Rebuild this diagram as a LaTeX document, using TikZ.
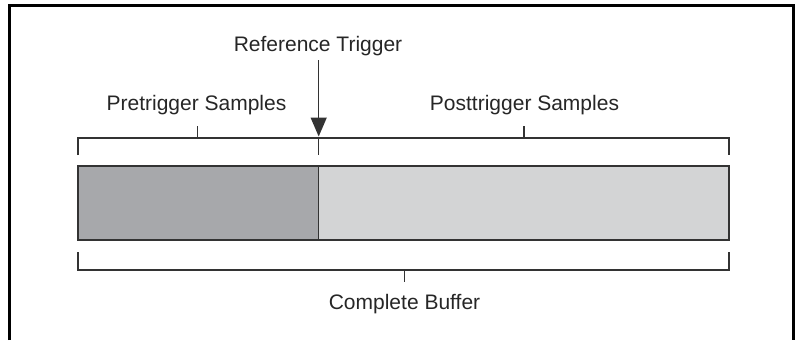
\documentclass[tikz,border=0pt]{standalone}
\usepackage{fontspec}
\setmainfont{Liberation Sans}
\usetikzlibrary{arrows.meta}
\definecolor{darkfill}{HTML}{A7A8AB}
\definecolor{lightfill}{HTML}{D3D4D5}
\definecolor{linecol}{HTML}{333333}
\begin{document}
\begin{tikzpicture}[x=1pt,y=-1pt,
  lbl/.style={anchor=base,inner sep=0pt,font=\fontsize{21}{24}\selectfont,text=black!85},
  brk/.style={draw=linecol,line width=1.4pt},
  box/.style={draw=linecol,line width=1.5pt}]
\useasboundingbox (0,0) rectangle (800,340);
% frame
\draw[line width=3pt,black] (9.5,340) -- (9.5,5) -- (793.5,5) -- (793.5,340);
% coordinates
\coordinate (L) at (78,166);
\coordinate (M) at (318.7,166);
\coordinate (R) at (729,240);
\coordinate (Mb) at (318.7,240);
% boxes
\fill[darkfill] (L) rectangle (Mb);
\fill[lightfill] (M) rectangle (R);
\draw[box] (L) rectangle (R);
\draw[box] (M) -- (Mb);
% top brackets
\draw[brk] (78,155) -- (78,138) -- (729,138) -- (729,155);
\draw[brk] (318.7,138) -- (318.7,155);
\draw[brk] (197.7,138) -- (197.7,126);
\draw[brk] (524,138) -- (524,126);
% bottom bracket
\draw[brk] (78,252) -- (78,270) -- (729,270) -- (729,252);
\draw[brk] (404.3,270) -- (404.3,282);
% labels
\node[lbl] (pre) at (196.5,110.5) {Pretrigger Samples};
\node[lbl] (post) at (524.5,110.5) {Posttrigger Samples};
\node[lbl] (ref) at (318,51.5) {Reference Trigger};
\node[lbl] (buf) at (404.5,309) {Complete Buffer};
% arrow
\coordinate (atop) at (318.7,60);
\coordinate (atip) at (318.7,136.5);
\draw[linecol,line width=1.4pt,-{Triangle[length=19pt,width=16pt]}] (atop) -- (atip);
\end{tikzpicture}
\end{document}
